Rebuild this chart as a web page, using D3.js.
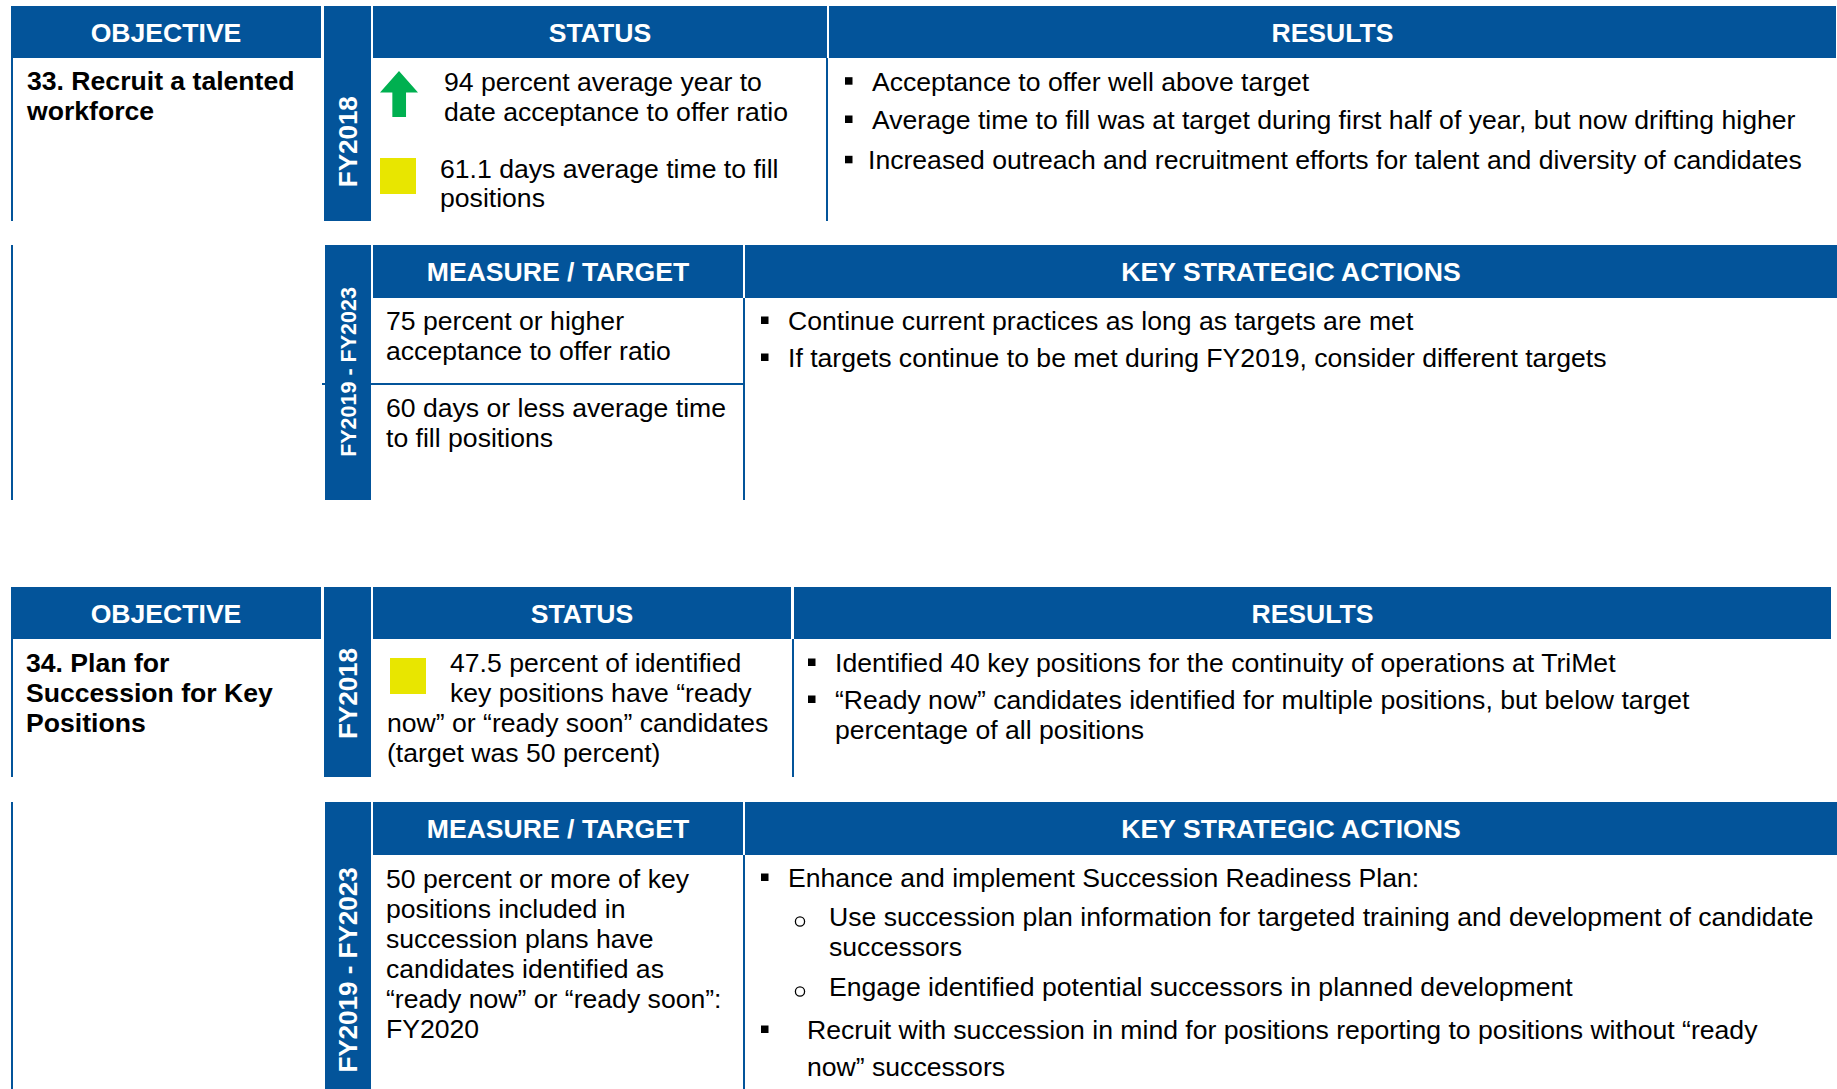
<!DOCTYPE html>
<html><head><meta charset="utf-8">
<script src="https://cdn.jsdelivr.net/npm/d3@7"></script>
<style>
html,body{margin:0;padding:0;background:#fff;}
svg{display:block;}
text{font-family:"Liberation Sans",Arial,Helvetica,sans-serif;}
</style>
</head><body>
<svg id="chart" width="1837" height="1089"></svg>
<script>
// ---------------- DATA ----------------
const headersTop = ["OBJECTIVE", "STATUS", "RESULTS"];
const headersPlan = ["MEASURE / TARGET", "KEY STRATEGIC ACTIONS"];
const periods = ["FY2018", "FY2019 - FY2023"];
const objectives = [
  ["33. Recruit a talented", "workforce"],
  ["34. Plan for", "Succession for Key", "Positions"]
];
const status33 = [
  {icon: "up", lines: ["94 percent average year to", "date acceptance to offer ratio"]},
  {icon: "yellow", lines: ["61.1 days average time to fill", "positions"]}
];
const status34 = [
  {icon: "yellow", lines: ["47.5 percent of identified", "key positions have \u201cready", "now\u201d or \u201cready soon\u201d candidates", "(target was 50 percent)"]}
];
const results33 = [
  ["Acceptance to offer well above target"],
  ["Average time to fill was at target during first half of year, but now drifting higher"],
  ["Increased outreach and recruitment efforts for talent and diversity of candidates"]
];
const results34 = [
  ["Identified 40 key positions for the continuity of operations at TriMet"],
  ["\u201cReady now\u201d candidates identified for multiple positions, but below target", "percentage of all positions"]
];
const measures33 = [
  ["75 percent or higher", "acceptance to offer ratio"],
  ["60 days or less average time", "to fill positions"]
];
const actions33 = [
  {level: 1, lines: ["Continue current practices as long as targets are met"]},
  {level: 1, lines: ["If targets continue to be met during FY2019, consider different targets"]}
];
const measures34 = [
  ["50 percent or more of key", "positions included in", "succession plans have", "candidates identified as", "\u201cready now\u201d or \u201cready soon\u201d:", "FY2020"]
];
const actions34 = [
  {level: 1, lines: ["Enhance and implement Succession Readiness Plan:"]},
  {level: 2, lines: ["Use succession plan information for targeted training and development of candidate", "successors"]},
  {level: 2, lines: ["Engage identified potential successors in planned development"]},
  {level: 1, lines: ["Recruit with succession in mind for positions reporting to positions without \u201cready", "now\u201d successors"]}
];
const statusColors = {up: "#00b050", yellow: "#e8e600"};

// ---------------- LAYOUT ----------------
const BLUE = "#03549a";
const FS = 26.6;
const svg = d3.select("#chart");

function rect(x0, y0, x1, y1, fill) {
  svg.append("rect").attr("x", x0).attr("y", y0)
    .attr("width", x1 - x0).attr("height", y1 - y0).attr("fill", fill);
}
function headerCells(cells, y0, y1) {
  const g = svg.append("g");
  g.selectAll("rect").data(cells).join("rect")
    .attr("x", d => d.x0).attr("y", y0)
    .attr("width", d => d.x1 - d.x0).attr("height", y1 - y0)
    .attr("fill", BLUE);
  g.selectAll("text").data(cells).join("text")
    .attr("x", d => (d.x0 + d.x1) / 2)
    .attr("y", (y0 + y1) / 2 + FS * 0.358)
    .attr("text-anchor", "middle")
    .attr("fill", "#fff").attr("font-weight", "bold").attr("font-size", FS)
    .text(d => d.label);
}
function periodLabel(label, cx, cy, fs) {
  svg.append("text")
    .attr("transform", `translate(${cx},${cy}) rotate(-90)`)
    .attr("x", 0).attr("y", fs * 0.358)
    .attr("text-anchor", "middle")
    .attr("fill", "#fff").attr("font-weight", "bold").attr("font-size", fs)
    .text(label);
}
function textLines(lines, xs, baselines, bold) {
  svg.append("g").selectAll("text").data(lines).join("text")
    .attr("x", (d, i) => Array.isArray(xs) ? xs[i] : xs)
    .attr("y", (d, i) => baselines(i))
    .attr("font-size", FS).attr("fill", "#000")
    .attr("font-weight", bold ? "bold" : "normal")
    .text(d => d);
}
function squareBullet(x, baseline) {
  rect(x, baseline - 13.5, x + 7.5, baseline - 6, "#000");
}
function circleBullet(cx, baseline) {
  svg.append("circle").attr("cx", cx).attr("cy", baseline - 4.5).attr("r", 4.6)
    .attr("fill", "none").attr("stroke", "#000").attr("stroke-width", 1.3);
}
function statusIcon(type, x, y, size) {
  if (type === "up") {
    const p = d3.path();
    p.moveTo(x + size / 2, y);
    p.lineTo(x + size, y + 21.5);
    p.lineTo(x + size * 0.685, y + 21.5);
    p.lineTo(x + size * 0.685, y + 46);
    p.lineTo(x + size * 0.325, y + 46);
    p.lineTo(x + size * 0.325, y + 21.5);
    p.lineTo(x, y + 21.5);
    p.closePath();
    svg.append("path").attr("d", p.toString()).attr("fill", statusColors.up);
  } else {
    rect(x, y, x + size, y + size, statusColors[type]);
  }
}
const lineStep = (start, step) => d3.scaleLinear().domain([0, 1]).range([start, start + step]);

// ---------- TABLE 1 : objective 33, FY2018 ----------
(function () {
  const y0 = 6, yh = 58, yb = 221;
  headerCells([
    {x0: 11, x1: 321, label: headersTop[0]},
    {x0: 373, x1: 827, label: headersTop[1]},
    {x0: 829, x1: 1836, label: headersTop[2]}
  ], y0, yh);
  rect(324, y0, 371, yb, BLUE);
  periodLabel(periods[0], 347.5, 141.7, 26);
  rect(11, yh, 13, yb, BLUE);
  rect(826, yh, 828, yb, BLUE);
  textLines(objectives[0], 27, lineStep(90, 30), true);
  statusIcon(status33[0].icon, 380, 71, 38);
  textLines(status33[0].lines, 444, lineStep(91, 30), false);
  statusIcon(status33[1].icon, 380, 158, 36);
  textLines(status33[1].lines, 440, lineStep(178, 28.5), false);
  const rb = [90.7, 129, 169.3], rx = [872, 872, 868];
  results33.forEach((lines, k) => {
    squareBullet(845, rb[k]);
    textLines(lines, rx[k], lineStep(rb[k], 30), false);
  });
})();

// ---------- TABLE 2 : measures 33, FY2019-FY2023 ----------
(function () {
  const y0 = 245, yh = 298, yb = 500;
  headerCells([
    {x0: 373, x1: 743, label: headersPlan[0]},
    {x0: 745, x1: 1837, label: headersPlan[1]}
  ], y0, yh);
  rect(325, y0, 371, yb, BLUE);
  rect(11, y0, 13, yb, BLUE);
  rect(743, yh, 745, yb, BLUE);
  rect(371, 383, 745, 385, BLUE);
  rect(322, 383, 325, 385, BLUE);
  periodLabel(periods[1], 348, 372, 21.5);
  const mb = [330, 417];
  measures33.forEach((lines, k) => textLines(lines, 386, lineStep(mb[k], 30), false));
  const ab = [330, 367];
  actions33.forEach((a, k) => {
    squareBullet(761, ab[k]);
    textLines(a.lines, 788, lineStep(ab[k], 30), false);
  });
})();

// ---------- TABLE 3 : objective 34, FY2018 ----------
(function () {
  const y0 = 587, yh = 639, yb = 777;
  headerCells([
    {x0: 11, x1: 321, label: headersTop[0]},
    {x0: 373, x1: 791, label: headersTop[1]},
    {x0: 794, x1: 1831, label: headersTop[2]}
  ], y0, yh);
  rect(324, y0, 371, yb, BLUE);
  periodLabel(periods[0], 347.5, 693.5, 26);
  rect(11, yh, 13, yb, BLUE);
  rect(792, yh, 794, yb, BLUE);
  textLines(objectives[1], 26, lineStep(672, 30), true);
  statusIcon(status34[0].icon, 390, 658, 36);
  textLines(status34[0].lines, [450, 450, 387, 387], lineStep(672, 30), false);
  const rb = [672, 709];
  results34.forEach((lines, k) => {
    squareBullet(808, rb[k]);
    textLines(lines, 835, lineStep(rb[k], 29.5), false);
  });
})();

// ---------- TABLE 4 : measures 34, FY2019-FY2023 ----------
(function () {
  const y0 = 802, yh = 855, yb = 1089;
  headerCells([
    {x0: 373, x1: 743, label: headersPlan[0]},
    {x0: 745, x1: 1837, label: headersPlan[1]}
  ], y0, yh);
  rect(325, y0, 371, yb, BLUE);
  periodLabel(periods[1], 348, 970, 26);
  rect(11, y0, 13, yb, BLUE);
  rect(743, yh, 745, yb, BLUE);
  textLines(measures34[0], 386, lineStep(888, 30), false);
  const ab = [887, 926, 996, 1039];
  const step = [30, 30, 30, 37];
  actions34.forEach((a, k) => {
    let tx;
    if (a.level === 1) { squareBullet(761, ab[k]); tx = k === 0 ? 788 : 807; }
    else { circleBullet(800, ab[k]); tx = 829; }
    textLines(a.lines, tx, lineStep(ab[k], step[k]), false);
  });
})();
</script>
</body></html>
